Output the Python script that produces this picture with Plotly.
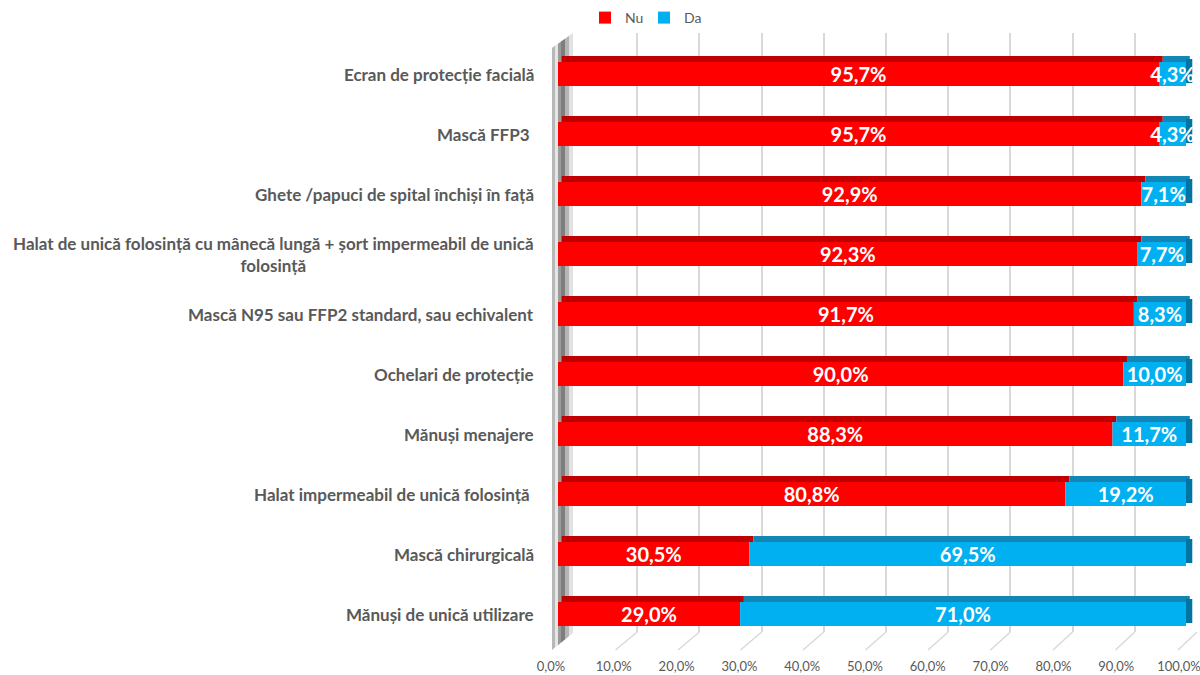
import plotly.graph_objects as go

W, H = 1200, 675

CATEGORIES = [
    'Ecran de protecție facială',
    'Mască FFP3\u00a0',
    'Ghete /papuci de spital închiși în față',
    'Halat de unică folosință cu mânecă lungă + șort impermeabil de unică<br>folosință',
    'Mască N95 sau FFP2 standard, sau echivalent',
    'Ochelari de protecție',
    'Mănuși menajere',
    'Halat impermeabil de unică folosință\u00a0',
    'Mască chirurgicală',
    'Mănuși de unică utilizare',
]
NU = [95.7, 95.7, 92.9, 92.3, 91.7, 90.0, 88.3, 80.8, 30.5, 29.0]
DA = [4.3, 4.3, 7.1, 7.7, 8.3, 10.0, 11.7, 19.2, 69.5, 71.0]
TICKS = [0, 10, 20, 30, 40, 50, 60, 70, 80, 90, 100]

COLORS = {
    'nu': '#FF0000',
    'nu_top': '#C00000',
    'da': '#00B0F0',
    'da_top': '#1287B5',
    'da_side': '#0075A3',
    'grid': '#D9D9D9',
    'text': '#595959',
}
FONT = 'Lato, "Open Sans", sans-serif'


def px_x(v):
    return v / W


def px_y(v):
    return 1 - v / H


def fmt(v):
    return f'{v:.1f}%'.replace('.', ',')


idx = list(range(len(CATEGORIES)))
nu = [v / 100 for v in NU]
da = [v / 100 for v in DA]
total = [a + b for a, b in zip(nu, da)]
shift = 0.006

# bar axis: 0 -> 558px, 1 -> 1186px, a little headroom so the 3d side faces are not clipped
X_MAX = 1.02
x2_right = 558 + 628 * X_MAX

fig = go.Figure()

# back plane: only carries the gridlines
fig.add_trace(go.Scatter(x=[0, 1], y=[0, 1], mode='markers', marker=dict(opacity=0),
                         hoverinfo='skip', showlegend=False, xaxis='x', yaxis='y'))

# top faces (3d look)
fig.add_trace(go.Bar(y=idx, x=nu, base=[shift] * len(nu), orientation='h',
                     width=0.1, offset=-0.3, marker=dict(color=COLORS['nu_top'], line_width=0),
                     showlegend=False, hoverinfo='skip', xaxis='x2', yaxis='y2'))
fig.add_trace(go.Bar(y=idx, x=da, base=[n + shift for n in nu], orientation='h',
                     width=0.1, offset=-0.3, marker=dict(color=COLORS['da_top'], line_width=0),
                     showlegend=False, hoverinfo='skip', xaxis='x2', yaxis='y2'))
fig.add_trace(go.Bar(y=idx, x=[0.01] * len(idx), base=total, orientation='h',
                     width=0.4, offset=-0.25, marker=dict(color=COLORS['da_side'], line_width=0),
                     showlegend=False, hoverinfo='skip', xaxis='x2', yaxis='y2'))

# front faces
fig.add_trace(go.Bar(
    y=idx, x=nu, base=[0] * len(nu), orientation='h', name='Nu',
    width=0.4, offset=-0.2, marker=dict(color=COLORS['nu'], line_width=0),
    text=[fmt(v) for v in NU], textposition='inside', insidetextanchor='middle',
    constraintext='none', cliponaxis=False,
    textfont=dict(family=FONT, size=20, color='white', weight='bold'),
    xaxis='x2', yaxis='y2',
))
fig.add_trace(go.Bar(
    y=idx, x=da, base=nu, orientation='h', name='Da',
    width=0.4, offset=-0.2, marker=dict(color=COLORS['da'], line_width=0),
    text=[fmt(v) for v in DA], textposition='inside', insidetextanchor='middle',
    constraintext='none', cliponaxis=False,
    textfont=dict(family=FONT, size=20, color='white', weight='bold'),
    xaxis='x2', yaxis='y2',
))

shapes = []

# left wall, metallic strips
wall = [(552, 555, '#B8B8B8'), (555, 558, '#E6E6E6'), (558, 561, '#9A9A9A'),
        (561, 565, '#7E7E7E'), (565, 569, '#B5B5B5'), (569, 573, '#E2E2E2')]


def wall_top(x):
    return 48 - (x - 552) * 15 / 21


def wall_bot(x):
    return 650 - (x - 552) * 17 / 21


for xa, xb, c in wall:
    path = (f'M {px_x(xa)},{px_y(wall_top(xa))} L {px_x(xb)},{px_y(wall_top(xb))} '
            f'L {px_x(xb)},{px_y(wall_bot(xb))} L {px_x(xa)},{px_y(wall_bot(xa))} Z')
    shapes.append(dict(type='path', path=path, xref='paper', yref='paper',
                       fillcolor=c, line=dict(width=0), layer='below'))

# floor lines joining front ticks to back gridlines
for k in range(1, 11):
    shapes.append(dict(type='line', xref='paper', yref='paper',
                       x0=px_x(553 + 62.5 * k), y0=px_y(650),
                       x1=px_x(575 + 62.2 * k), y1=px_y(632),
                       line=dict(color=COLORS['grid'], width=1.5), layer='below'))

annotations = []
for i, cat in zip(idx, CATEGORIES):
    annotations.append(dict(
        x=px_x(536), xref='paper', y=i, yref='y2', text=cat, showarrow=False,
        xanchor='right', align='center',
        font=dict(family=FONT, size=17, color=COLORS['text'], weight='bold'),
    ))

fig.update_layout(
    width=W, height=H,
    margin=dict(l=0, r=0, t=0, b=0, autoexpand=False),
    paper_bgcolor='white',
    plot_bgcolor='rgba(0,0,0,0)',
    font=dict(family=FONT, color=COLORS['text']),
    separators=',.',
    barmode='overlay',
    showlegend=True,
    legend=dict(orientation='h', x=px_x(585), xanchor='left', y=px_y(18), yanchor='middle',
                itemwidth=30, entrywidth=14,
                font=dict(size=14, color=COLORS['text']), bgcolor='rgba(0,0,0,0)'),
    xaxis=dict(domain=[px_x(575), px_x(1197)], range=[0, 1], anchor='y',
               tickvals=[t / 100 for t in TICKS], showticklabels=False, ticks='',
               showgrid=True, gridcolor=COLORS['grid'], gridwidth=1.5,
               zeroline=False, showline=False, fixedrange=True, automargin=False),
    yaxis=dict(domain=[px_y(632), px_y(33)], range=[0, 1], anchor='x',
               visible=False, fixedrange=True, automargin=False),
    xaxis2=dict(domain=[px_x(558), px_x(x2_right)], range=[0, X_MAX], anchor='y2',
                tickvals=[t / 100 for t in TICKS], tickformat='.1%',
                ticks='outside', ticklen=10, tickcolor='rgba(0,0,0,0)', ticklabelshift=-7,
                ticklabeloverflow='allow',
                tickfont=dict(family=FONT, size=13, color=COLORS['text']),
                showgrid=False, zeroline=False, showline=False, fixedrange=True,
                automargin=False),
    yaxis2=dict(domain=[px_y(644), px_y(44)], range=[9.5, -0.5], anchor='x2',
                visible=False, fixedrange=True, automargin=False),
    shapes=shapes,
    annotations=annotations,
)

fig.write_html('out.html', config={'displayModeBar': False},
               post_script="document.body.style.margin='0';")
